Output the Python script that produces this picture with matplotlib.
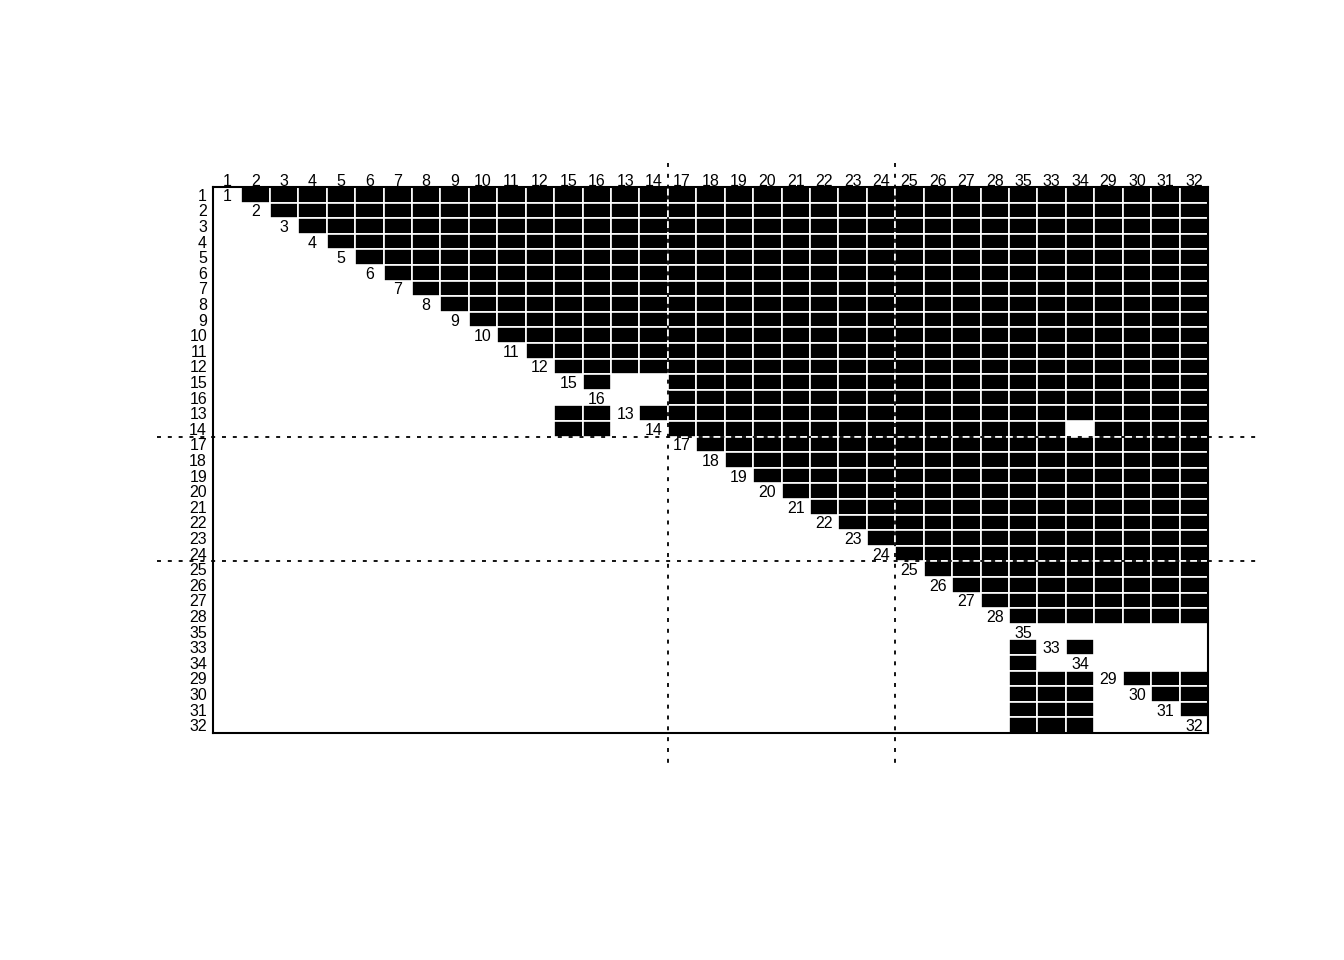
import matplotlib
matplotlib.use("Agg")
from matplotlib import pyplot as plt

plt.rcParams['font.family'] = ['Liberation Sans', 'DejaVu Sans']

# row/column order of the matrix
order = [1, 2, 3, 4, 5, 6, 7, 8, 9, 10, 11, 12, 15, 16, 13, 14,
         17, 18, 19, 20, 21, 22, 23, 24, 25, 26, 27, 28,
         35, 33, 34, 29, 30, 31, 32]

# '#' = filled cell, '.' = empty (groups of five columns)
cells = [
    ".#### ##### ##### ##### ##### ##### #####",
    "..### ##### ##### ##### ##### ##### #####",
    "...## ##### ##### ##### ##### ##### #####",
    "....# ##### ##### ##### ##### ##### #####",
    "..... ##### ##### ##### ##### ##### #####",
    "..... .#### ##### ##### ##### ##### #####",
    "..... ..### ##### ##### ##### ##### #####",
    "..... ...## ##### ##### ##### ##### #####",
    "..... ....# ##### ##### ##### ##### #####",
    "..... ..... ##### ##### ##### ##### #####",
    "..... ..... .#### ##### ##### ##### #####",
    "..... ..... ..### ##### ##### ##### #####",
    "..... ..... ...#. .#### ##### ##### #####",
    "..... ..... ..... .#### ##### ##### #####",
    "..... ..... ..##. ##### ##### ##### #####",
    "..... ..... ..##. .#### ##### ##### .####",
    "..... ..... ..... ..### ##### ##### #####",
    "..... ..... ..... ...## ##### ##### #####",
    "..... ..... ..... ....# ##### ##### #####",
    "..... ..... ..... ..... ##### ##### #####",
    "..... ..... ..... ..... .#### ##### #####",
    "..... ..... ..... ..... ..### ##### #####",
    "..... ..... ..... ..... ...## ##### #####",
    "..... ..... ..... ..... ....# ##### #####",
    "..... ..... ..... ..... ..... ##### #####",
    "..... ..... ..... ..... ..... .#### #####",
    "..... ..... ..... ..... ..... ..### #####",
    "..... ..... ..... ..... ..... ...## #####",
    "..... ..... ..... ..... ..... ..... .....",
    "..... ..... ..... ..... ..... ...#. #....",
    "..... ..... ..... ..... ..... ...#. .....",
    "..... ..... ..... ..... ..... ...## #.###",
    "..... ..... ..... ..... ..... ...## #..##",
    "..... ..... ..... ..... ..... ...## #...#",
    "..... ..... ..... ..... ..... ...## #....",
]

# block boundaries (dotted lines), in cell units
splits = [16, 24]

n = len(order)
fs = 11.5
fig = plt.figure(figsize=(13.44, 9.6), dpi=100)
ax = fig.add_axes([213 / 1344, 1 - 733 / 960, 995 / 1344, 546 / 960])
ax.set_xlim(0, n)
ax.set_ylim(n, 0)

for i, row in enumerate(cells):
    row = row.replace(' ', '')
    cols = [j for j, c in enumerate(row) if c == '#']
    if cols:
        ax.bar(cols, 1, width=1, bottom=i, align='edge', color='black',
               edgecolor='white', linewidth=1.2, zorder=2)
    # diagonal label
    ax.text(i + 0.5, i + 0.6, str(order[i]), ha='center', va='center',
            fontsize=fs, zorder=3)

# dotted block separators, running past the frame
for s in splits:
    ax.plot([s, s], [-1.55, 36.9], color='black', lw=1.3,
            linestyle=(0, (2.2, 3.8)), clip_on=False, zorder=4)
    ax.plot([-1.97, 36.83], [s, s], color='black', lw=1.3,
            linestyle=(0, (2.2, 3.8)), clip_on=False, zorder=4)

# labels on top and left
for k, lab in enumerate(order):
    ax.text(k + 0.5, -0.07, str(lab), ha='center', va='baseline', fontsize=fs)
    ax.text(-0.21, k + 0.6, str(lab), ha='right', va='center', fontsize=fs)

ax.set_xticks([])
ax.set_yticks([])
for sp in ax.spines.values():
    sp.set_linewidth(1.5)
    sp.set_zorder(5)

fig.savefig('out.png', dpi=100)
